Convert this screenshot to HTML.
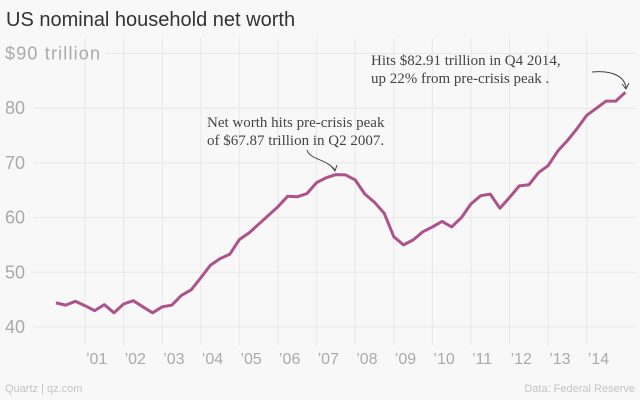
<!DOCTYPE html>
<html><head><meta charset="utf-8"><style>
body{margin:0;background:#f8f8f8;}
svg{display:block;font-family:"Liberation Sans",sans-serif;}
</style></head><body>
<svg id="chart" width="640" height="400" viewBox="0 0 640 400">
<rect width="640" height="400" fill="#f8f8f8"/>
<text x="6" y="26" font-size="20" fill="#333">US nominal household net worth</text>
<g id="grid"></g>
<g id="ylabels"></g>
<g id="xlabels"></g>
<path id="line" fill="none" stroke="#ad5389" stroke-width="3" stroke-linejoin="round"/>
<g font-family="Liberation Serif, serif" font-size="15" fill="#444">
<text x="207" y="127">Net worth hits pre-crisis peak</text>
<text x="207" y="145">of $67.87 trillion in Q2 2007.</text>
<text x="371" y="65">Hits $82.91 trillion in Q4 2014,</text>
<text x="371" y="83">up 22% from pre-crisis peak .</text>
</g>
<path d="M307,150 C310,160 325,158 335,170" fill="none" stroke="#444" stroke-width="1"/>
<path d="M331,166 L335,171 L337,165" fill="none" stroke="#444" stroke-width="1"/>
<path d="M592,72 C615,70 625,78 626,88" fill="none" stroke="#444" stroke-width="1"/>
<path d="M622,84 L626,89 L629,83" fill="none" stroke="#444" stroke-width="1"/>
<text x="5" y="392" font-size="11" fill="#c4c4c4">Quartz | qz.com</text>
<text x="635" y="392" font-size="11" fill="#c4c4c4" text-anchor="end">Data: Federal Reserve</text>
</svg>
<script>
const values = [44.4,44.0,44.7,43.9,43.0,44.1,42.6,44.2,44.8,43.7,42.6,43.7,44.0,45.8,46.8,49.0,51.3,52.5,53.3,56.0,57.2,58.8,60.4,62.0,63.9,63.8,64.4,66.4,67.3,67.87,67.8,66.9,64.3,62.8,60.8,56.5,55.0,55.9,57.4,58.3,59.3,58.3,60.0,62.5,64.0,64.3,61.7,63.7,65.8,66.0,68.2,69.5,72.2,74.1,76.3,78.7,80.0,81.3,81.3,82.91];
const startYear = 2000;
const yTicks = [40,50,60,70,80,90];
const xYears = [2001,2002,2003,2004,2005,2006,2007,2008,2009,2010,2011,2012,2013,2014];
const xLabels = ["’01","’02","’03","’04","’05","’06","’07","’08","’09","’10","’11","’12","’13","’14"];
const NS="http://www.w3.org/2000/svg";
function xs(t){return 85+(t-2001)*38.6;}
function ys(v){return 327-(v-40)*5.47;}
const grid=document.getElementById('grid'),yl=document.getElementById('ylabels'),xl=document.getElementById('xlabels');
yTicks.forEach(v=>{
  const l=document.createElementNS(NS,'line');
  l.setAttribute('x1',v===90?105:33);l.setAttribute('x2',636);
  l.setAttribute('y1',ys(v));l.setAttribute('y2',ys(v));
  l.setAttribute('stroke','#e8e8e8');l.setAttribute('stroke-width','1');
  
  
  grid.appendChild(l);
  const t=document.createElementNS(NS,'text');
  t.setAttribute('x',5);t.setAttribute('y',ys(v)+6);
  t.setAttribute('font-size','18');t.setAttribute('fill','#aaa');
  t.textContent=v===90?'$90 trillion':String(v);
  if(v===90){t.setAttribute('textLength','95');}
  
  
  yl.appendChild(t);
});
xYears.forEach((y,i)=>{
  const l=document.createElementNS(NS,'line');
  l.setAttribute('x1',xs(y));l.setAttribute('x2',xs(y));
  l.setAttribute('y1',38);l.setAttribute('y2',345);
  l.setAttribute('stroke','#e8e8e8');l.setAttribute('stroke-width','1');
  
  
  grid.appendChild(l);
  const t=document.createElementNS(NS,'text');
  t.setAttribute('x',xs(y)+1);t.setAttribute('y',364);
  t.setAttribute('font-size','16');t.setAttribute('fill','#aaa');
  t.textContent=xLabels[i];
  
  
  xl.appendChild(t);
});
let d='';
values.forEach((v,i)=>{const t=startYear+(i+1)/4;d+=(i?'L':'M')+xs(t).toFixed(1)+','+ys(v).toFixed(1);});
document.getElementById('line').setAttribute('d',d);
</script>
</body></html>
